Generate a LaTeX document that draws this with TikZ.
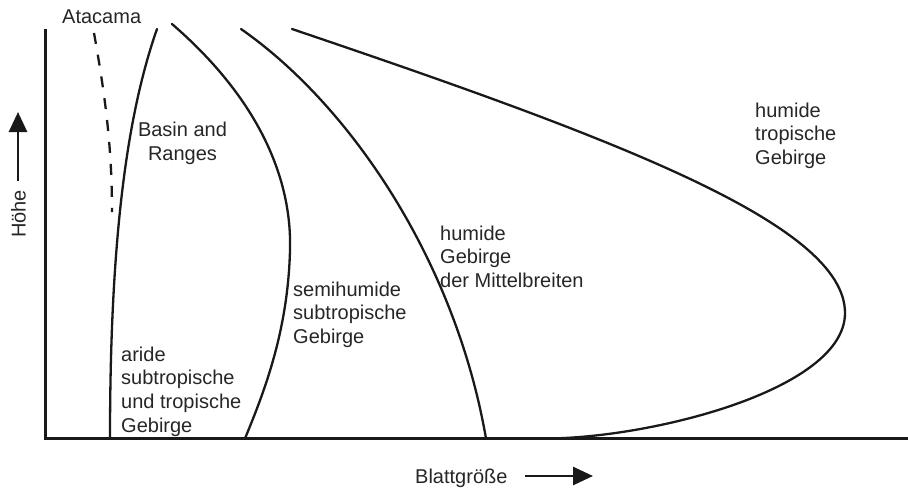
\documentclass[tikz,border=0pt]{standalone}
\usepackage{fontspec}
\setmainfont{Liberation Sans}
\usetikzlibrary{arrows.meta}
\newcommand{\lbl}[2][l]{\begin{tabular}[t]{@{}#1@{}}#2\end{tabular}}
\tikzset{
  axisline/.style={line width=2.6pt, black!90},
  curveline/.style={line width=2.3pt, black!90, line join=round, line cap=round},
  lbltext/.style={inner sep=0pt, text=black!85, font=\fontsize{20}{23.7}\selectfont},
  axarrow/.style={line width=2.8pt, black!90, -{Triangle[length=20pt,width=18pt]}}
}
\begin{document}
\begin{tikzpicture}[x=1pt,y=-1pt]
\useasboundingbox (0,0) rectangle (908,491);
% axes
\draw[axisline] (45.5,29) -- (45.5,438.5) -- (908,438.5);
% Atacama dashed
\draw[curveline, line cap=butt, dash pattern=on 11pt off 11pt] (94,33) .. controls (106,100) and (112,150) .. (112,212);
% Basin and Ranges curve
\draw[curveline] (157,29) .. controls (125,120) and (110,250) .. (110,438.5);
% semihumide curve
\draw[curveline] (172,24) .. controls (260,100) and (292,180) .. (290,250) .. controls (288,330) and (265,390) .. (245,438.5);
% humide Mittelbreiten curve
\draw[curveline] (241,29) .. controls (350,105) and (455,260) .. (486,438.5);
% humide tropische curve
\draw[curveline] (292,29) .. controls (620,140) and (845,225) .. (845,313) .. controls (845,390) and (650,438.5) .. (545,438.5);
% labels
\node[lbltext, anchor=base west] (atacama) at (62,23) {Atacama};
\node[lbltext, anchor=base] (basin) at (182.5,136.5) {\lbl[c]{Basin and\\Ranges}};
\node[lbltext, anchor=base west] (arid) at (121,361) {\lbl{aride\\subtropische\\und tropische\\Gebirge}};
\node[lbltext, anchor=base west] (semi) at (293,296) {\lbl{semihumide\\subtropische\\Gebirge}};
\node[lbltext, anchor=base west] (mittel) at (440,240) {\lbl{humide\\Gebirge\\der Mittelbreiten}};
\node[lbltext, anchor=base west] (trop) at (755,117) {\lbl{humide\\tropische\\Gebirge}};
% axis titles
\node[lbltext, anchor=base, rotate=90] (hoehe) at (25.5,214) {Höhe};
\coordinate (hA) at (18,181);
\coordinate (hB) at (18,112);
\draw[axarrow] (hA) -- (hB);
\node[lbltext, anchor=base west] (blatt) at (415,483) {Blattgröße};
\coordinate (bA) at (525,476);
\coordinate (bB) at (593,476);
\draw[axarrow] (bA) -- (bB);
\end{tikzpicture}
\end{document}
